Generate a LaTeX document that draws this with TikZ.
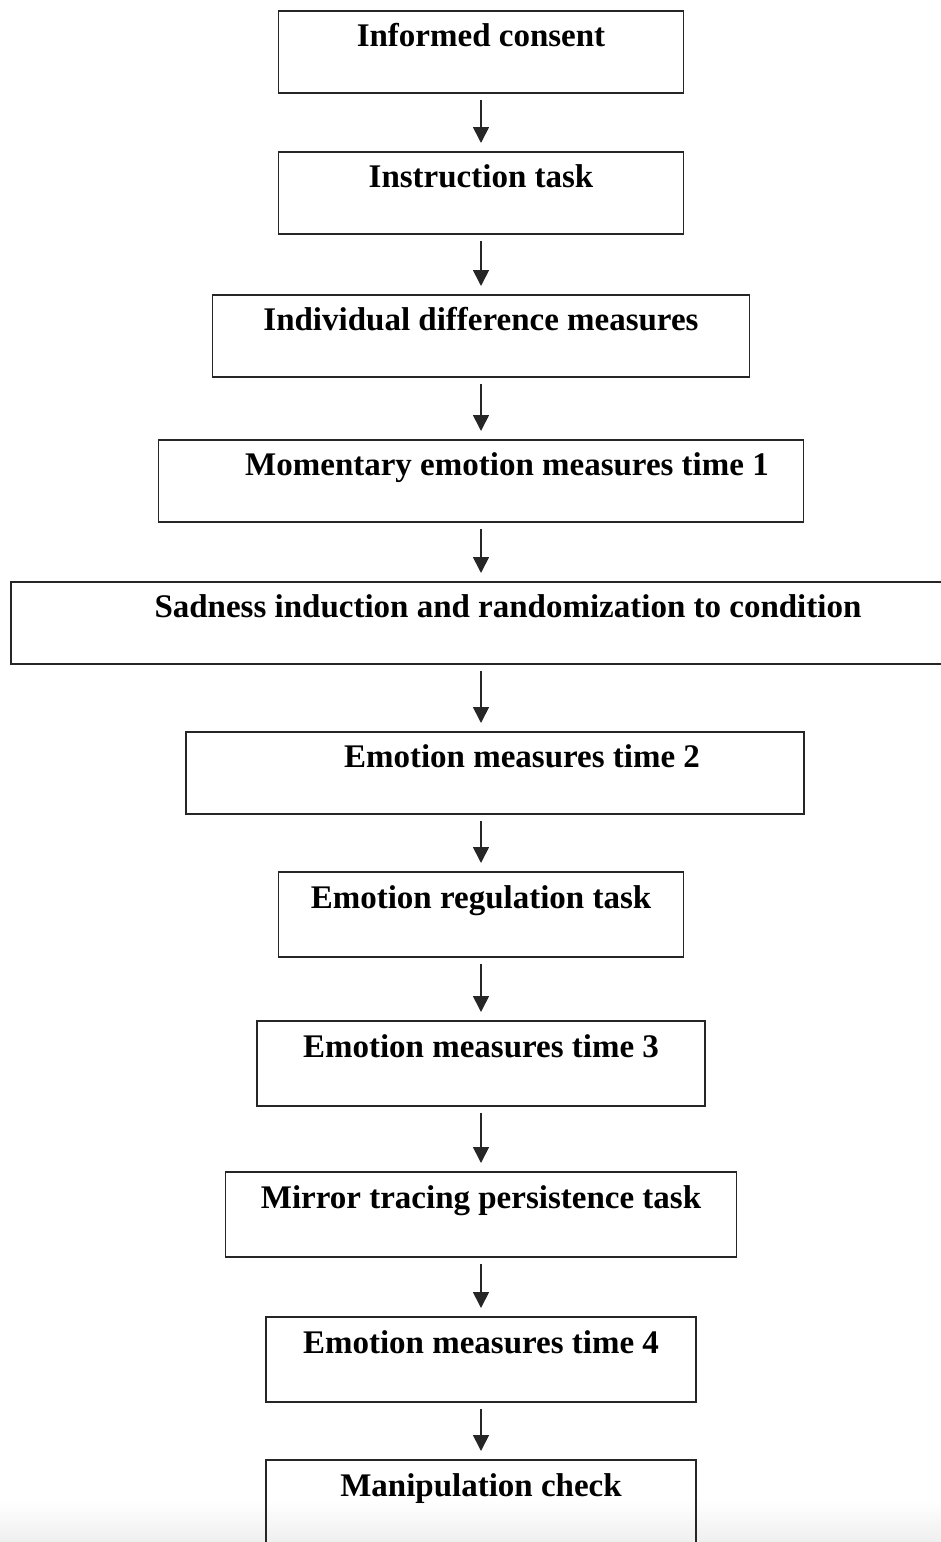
\documentclass[tikz,border=0pt]{standalone}
\usepackage{fontspec}
\setmainfont{Liberation Serif}
\usepackage{tikz}
\usetikzlibrary{arrows.meta, positioning}
\definecolor{stepline}{HTML}{262626}
\definecolor{fadegray}{HTML}{EFEFEF}

\begin{document}
\begin{tikzpicture}[
  box/.style={rectangle, draw=stepline, line width=1.6pt, minimum width=#1,
    text height=35pt, text depth=47pt, inner sep=0pt, outer sep=0pt, align=center,
    font=\fontsize{33pt}{40pt}\selectfont\bfseries},
  tall/.style={text height=36pt, text depth=49pt},
  arr/.style={-{Triangle[width=16pt, length=16pt]}, line width=1.7pt, stepline,
    shorten <=7pt, shorten >=9pt},
  node distance=60pt,
]
  \useasboundingbox (0,0) rectangle (941pt,-1542pt);
  \shade[top color=white, bottom color=fadegray] (0,-1500pt) rectangle (941pt,-1542pt);

  \node[box=405pt, anchor=north] (consent) at (481pt,-11pt) {Informed consent};
  \node[box=405pt, below=59pt of consent] (instr) {Instruction task};
  \node[box=537pt, below=61pt of instr] (diffs) {Individual difference measures};
  \node[box=645pt, below=63pt of diffs] (emo1) {\hspace*{52pt}Momentary emotion measures time 1};
  \node[box=940pt, below=60pt of emo1] (sadness) {\hspace*{54pt}Sadness induction and randomization to condition};
  \node[box=618pt, below=68pt of sadness, xshift=14pt] (emo2) {\hspace*{54pt}Emotion measures time 2};
  \node[box=405pt, tall, below=58pt of emo2, xshift=-14pt] (regul) {Emotion regulation task};
  \node[box=448pt, tall, below=64pt of regul] (emo3) {Emotion measures time 3};
  \node[box=511pt, tall, below=66pt of emo3] (mirror) {Mirror tracing persistence task};
  \node[box=430pt, tall, below=60pt of mirror] (emo4) {Emotion measures time 4};
  \node[box=430pt, tall, below=58pt of emo4] (check) {Manipulation check};

  \draw[arr] (consent) -- (instr);
  \draw[arr] (instr) -- (diffs);
  \draw[arr] (diffs) -- (emo1);
  \draw[arr] (emo1) -- (sadness);
  \draw[arr] (sadness.south) -- (sadness.south |- emo2.north);
  \draw[arr] (regul.north |- emo2.south) -- (regul);
  \draw[arr] (regul) -- (emo3);
  \draw[arr] (emo3) -- (mirror);
  \draw[arr] (mirror) -- (emo4);
  \draw[arr] (emo4) -- (check);
\end{tikzpicture}
\end{document}
